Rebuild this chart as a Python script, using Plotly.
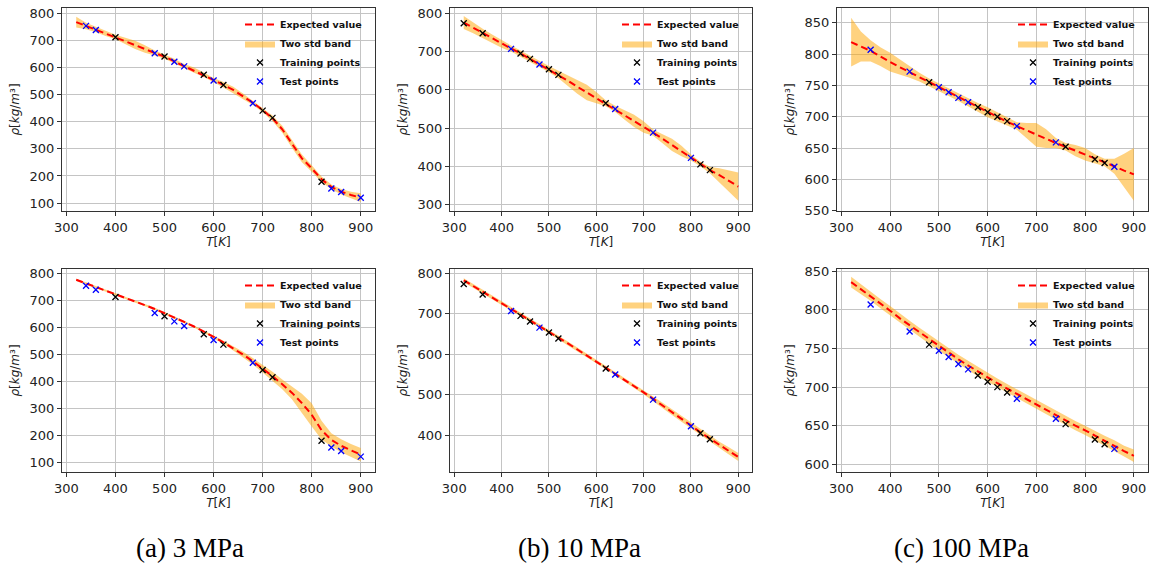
import plotly.graph_objects as go

# ---------------- data ----------------
T_grid = [320, 340, 360, 380, 400, 420, 440, 460, 480, 500, 520, 540, 560, 580, 600,
          620, 640, 660, 680, 700, 720, 740, 760, 780, 800, 820, 840, 860, 880, 900]

# 3 MPa
a_T_train = [400, 500, 580, 620, 700, 720, 820]
a_rho_train = [711, 640, 573, 535, 441, 414, 179]
a_T_test = [340, 360, 480, 520, 540, 600, 680, 840, 860, 900]
a_rho_test = [753, 738, 652, 621, 604, 552, 468, 154, 141, 120]
a_top_mean = [767, 753, 740, 726, 712, 697, 683, 668, 653, 640, 622, 605, 590, 573, 553,
              536, 517, 494, 470, 443, 413, 372, 318, 265, 228, 188, 160, 142, 130, 120]
a_top_hw = [20, 12, 10, 10, 8, 12, 15, 14, 9, 8, 10, 8, 10, 8, 8,
            10, 12, 10, 8, 8, 10, 13, 15, 14, 12, 10, 9, 10, 12, 16]
a_bot_mean = [775, 762, 749, 736, 722, 709, 695, 681, 667, 652, 636, 619, 602, 584, 564,
              543, 521, 498, 473, 446, 418, 388, 356, 318, 275, 218, 182, 160, 143, 127]
a_bot_hw = [4, 4, 4, 4, 4, 4, 4, 4, 4, 4, 4, 4, 4, 5, 5,
            6, 8, 10, 12, 14, 16, 18, 24, 35, 43, 35, 25, 24, 24, 25]

# 10 MPa
b_T_train = [320, 360, 440, 460, 500, 520, 620, 820, 840]
b_rho_train = [774, 748, 695, 681, 654, 639, 565, 405, 390]
b_T_test = [420, 480, 640, 720, 800]
b_rho_test = [707, 666, 550, 488, 422]
b_top_mean = [776, 762, 748, 734, 720, 708, 695, 681, 667, 654, 640, 624, 608, 593, 579,
              565, 550, 534, 519, 503, 488, 472, 456, 440, 423, 406, 390, 377, 362, 347]
b_top_hw = [17, 14, 12, 11, 10, 8, 8, 8, 7, 8, 10, 14, 18, 20, 15,
            8, 8, 12, 16, 15, 8, 12, 16, 14, 8, 6, 8, 18, 28, 37]
b_bot_mean = [783, 769, 755, 741, 727, 713, 699, 685, 671, 657, 642, 627, 612, 597, 583,
              568, 552, 537, 522, 506, 490, 474, 457, 440, 424, 407, 391, 376, 361, 346]
b_bot_hw = [5, 5, 5, 5, 5, 5, 5, 5, 5, 5, 5, 5, 5, 5, 5,
            5, 5, 5, 5, 5, 6, 6, 7, 7, 8, 8, 8, 8, 9, 10]

# 100 MPa
c_T_train = [480, 580, 600, 620, 640, 760, 820, 840]
c_rho_train = [755, 715, 707, 700, 693, 652, 632, 626]
c_T_test = [360, 440, 500, 520, 540, 560, 660, 740, 860]
c_rho_test = [807, 772, 747, 739, 730, 723, 685, 659, 620]
c_top_mean = [819, 812, 805, 796, 787, 779, 771, 763, 755, 747, 739, 731, 723, 715, 707,
              700, 692, 685, 678, 671, 665, 658, 652, 646, 640, 633, 627, 621, 614, 608]
c_top_hw = [39, 24, 17, 15, 15, 12, 9, 7, 6, 6, 6, 6, 6, 7, 8,
            7, 6, 6, 12, 19, 15, 8, 6, 9, 10, 7, 6, 12, 27, 42]
c_bot_mean = [836, 827, 818, 808, 799, 789, 780, 771, 762, 753, 744, 736, 728, 720, 712,
              705, 698, 691, 684, 677, 670, 663, 657, 650, 644, 637, 631, 624, 617, 611]
c_bot_hw = [7, 6, 6, 6, 6, 6, 6, 6, 6, 6, 6, 6, 6, 6, 6,
            6, 6, 6, 6, 6, 6, 6, 6, 6, 6, 6, 6, 7, 7, 8]

captions = ["(a) 3 MPa", "(b) 10 MPa", "(c) 100 MPa"]

# ---------------- layout geometry ----------------
W, H = 1153, 566
col_px = [(62, 375), (450, 752), (837, 1148)]
row_px = [(8, 211), (269, 472)]
caption_x_px = [190, 579, 961]
y_ranges = [[71, 819], [283, 814], [549.5, 873.5],
            [63, 815], [309, 811], [590, 853]]
y_dticks = [100, 100, 50, 100, 100, 50]
y_tick0 = [100, 300, 550, 100, 400, 600]

panels = [
    (a_top_mean, a_top_hw, a_T_train, a_rho_train, a_T_test, a_rho_test),
    (b_top_mean, b_top_hw, b_T_train, b_rho_train, b_T_test, b_rho_test),
    (c_top_mean, c_top_hw, c_T_train, c_rho_train, c_T_test, c_rho_test),
    (a_bot_mean, a_bot_hw, a_T_train, a_rho_train, a_T_test, a_rho_test),
    (b_bot_mean, b_bot_hw, b_T_train, b_rho_train, b_T_test, b_rho_test),
    (c_bot_mean, c_bot_hw, c_T_train, c_rho_train, c_T_test, c_rho_test),
]

fig = go.Figure()
tick_font = dict(family="DejaVu Sans", size=13, color="#222")
title_font = dict(family="DejaVu Sans", size=12, color="#222")
layout_updates = {}

for i, (mean, hw, ttr, rtr, tte, rte) in enumerate(panels):
    r, c = divmod(i, 3)
    n = i + 1
    xa = "x" if n == 1 else f"x{n}"
    ya = "y" if n == 1 else f"y{n}"
    lg = "legend" if n == 1 else f"legend{n}"
    upper = [m + h for m, h in zip(mean, hw)]
    lower = [m - h for m, h in zip(mean, hw)]
    fig.add_trace(go.Scatter(
        x=T_grid + T_grid[::-1], y=upper + lower[::-1], fill="toself",
        fillcolor="rgba(255,165,0,0.5)", line=dict(width=0), mode="lines",
        name="Two std band", legend=lg, legendrank=2, xaxis=xa, yaxis=ya,
        hoverinfo="skip"))
    fig.add_trace(go.Scatter(
        x=T_grid, y=mean, mode="lines", line=dict(color="red", width=2, dash="7px,4px"),
        name="Expected value", legend=lg, legendrank=1, xaxis=xa, yaxis=ya))
    fig.add_trace(go.Scatter(
        x=ttr, y=rtr, mode="markers",
        marker=dict(symbol="x-thin", size=6, line=dict(color="black", width=1.3)),
        name="Training points", legend=lg, legendrank=3, xaxis=xa, yaxis=ya))
    fig.add_trace(go.Scatter(
        x=tte, y=rte, mode="markers",
        marker=dict(symbol="x-thin", size=6, line=dict(color="blue", width=1.3)),
        name="Test points", legend=lg, legendrank=4, xaxis=xa, yaxis=ya))

    x0, x1 = col_px[c]
    y0, y1 = row_px[r]
    xdom = [x0 / W, x1 / W]
    ydom = [1 - y1 / H, 1 - y0 / H]
    xkey = "xaxis" if n == 1 else f"xaxis{n}"
    ykey = "yaxis" if n == 1 else f"yaxis{n}"
    common = dict(showline=True, mirror=True, linecolor="#333", linewidth=1,
                  showgrid=True, gridcolor="#c4c4c4", gridwidth=1, zeroline=False,
                  ticks="outside", ticklen=4, tickcolor="#333", tickfont=tick_font,
                  automargin=False)
    layout_updates[xkey] = dict(domain=xdom, anchor=ya, range=[291, 929],
                                tick0=300, dtick=100,
                                title=dict(text="<i>T</i>[<i>K</i>]", font=title_font, standoff=4),
                                **common)
    layout_updates[ykey] = dict(domain=ydom, anchor=xa, range=y_ranges[i],
                                tick0=y_tick0[i], dtick=y_dticks[i],
                                title=dict(text="<i>ρ</i>[<i>kg</i>/<i>m</i>³]", font=title_font, standoff=7),
                                **common)
    layout_updates[lg] = dict(x=(x1 - 8) / W, xanchor="right", y=(1 - (y0 + 2) / H), yanchor="top",
                              bgcolor="rgba(0,0,0,0)", borderwidth=0,
                              font=dict(family="DejaVu Sans", size=9.5, color="#111", weight="bold"),
                              itemwidth=30, tracegroupgap=0)

fig.update_layout(**layout_updates)

for cx, txt in zip(caption_x_px, captions):
    fig.add_annotation(x=cx / W, y=1 - 548 / H, xref="paper", yref="paper",
                       text=txt, showarrow=False, xanchor="center", yanchor="middle",
                       font=dict(family="Liberation Serif", size=27, color="black"))

fig.update_layout(width=W, height=H, margin=dict(l=0, r=0, t=0, b=0, pad=0),
                  paper_bgcolor="white", plot_bgcolor="white", showlegend=True)

fig.write_html("out.html", config={"displayModeBar": False},
               post_script="document.body.style.margin='0';document.body.style.overflow='hidden';")
